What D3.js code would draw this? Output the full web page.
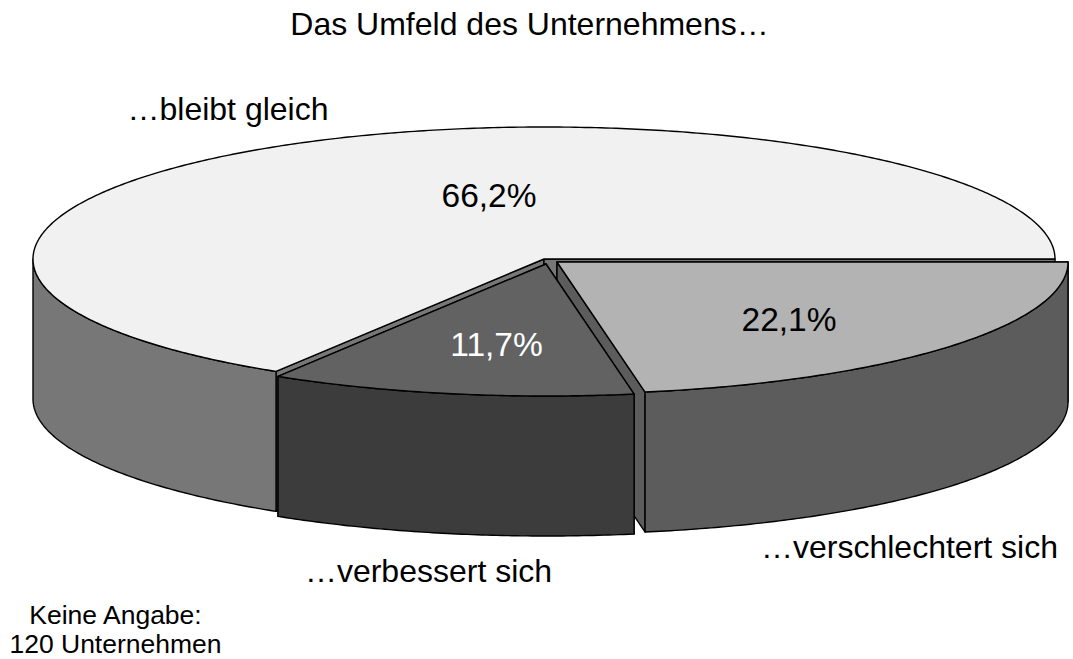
<!DOCTYPE html>
<html><head><meta charset="utf-8">
<script src="https://cdn.jsdelivr.net/npm/d3@7/dist/d3.min.js"></script>
<style>html,body{margin:0;padding:0;background:#fff}svg{display:block}text{font-family:"Liberation Sans",Arial,sans-serif}</style>
</head><body><svg id="c" width="1073" height="659"></svg>
<script>
const categories = ["…verschlechtert sich", "…verbessert sich", "…bleibt gleich"];
const values = [22.1, 11.7, 66.2];
const valueLabels = ["22,1%", "11,7%", "66,2%"];
const titleText = "Das Umfeld des Unternehmens…";
const noteLines = ["Keine Angabe:", "120 Unternehmen"];

const topColors = ["#b3b3b3", "#626262", "#f1f1f1"];
const wallColors = ["#5c5c5c", "#3c3c3c", "#777777"];
const centers = [[557, 262], [546, 264], [544, 259]];
const labelPos = [[789, 331, "#000"], [496.5, 356, "#fff"], [489, 207, "#000"]];
const catPos = [[909.5, 558], [428.5, 582], [228, 120]];
const rx = 511, ry = 132, depth = 140;
const drawOrder = [2, 0, 1];

const svg = d3.select("#c");
const pie = d3.pie().sort(null).startAngle(Math.PI / 2).endAngle(Math.PI * 2.5);
const arcs = pie(values);
const line = d3.line();

// small projection correction of the reference's perspective
function warp(a) {
  const t = a - Math.PI / 2;
  return a - 0.0105 * Math.sin(3 * t);
}
function pt(i, a, dz = 0) {
  const [cx, cy] = centers[i];
  const w = warp(a);
  return [cx + rx * Math.sin(w), cy - ry * Math.cos(w) + dz];
}
function samples(a0, a1) {
  const n = Math.max(2, Math.ceil(Math.abs(a1 - a0) / 0.01));
  return d3.range(n + 1).map(k => a0 + (a1 - a0) * k / n);
}
function poly(pts, fill) {
  svg.append("path").attr("d", line(pts) + "Z").attr("fill", fill)
    .attr("stroke", "#000").attr("stroke-width", 1.4).attr("stroke-linejoin", "round");
}
const FRONT_L = Math.PI * 1.5, FRONT_R = Math.PI / 2;

drawOrder.forEach(i => {
  const d = arcs[i];
  const c = centers[i];
  const wall = wallColors[i];
  const cBottom = [c[0], c[1] + depth];
  [d.startAngle, d.endAngle].forEach(a => {
    poly([c, pt(i, a), pt(i, a, depth), cBottom], wall);
  });
  const from = Math.max(d.startAngle, FRONT_R);
  const to = Math.min(d.endAngle, FRONT_L);
  if (to > from) {
    const s = samples(from, to);
    poly(s.map(a => pt(i, a)).concat(s.slice().reverse().map(a => pt(i, a, depth))), wall);
  }
  poly([c].concat(samples(d.startAngle, d.endAngle).map(a => pt(i, a))), topColors[i]);
});

function text(x, y, s, size, fill = "#000") {
  svg.append("text").attr("x", x).attr("y", y).attr("text-anchor", "middle")
    .attr("font-size", size).attr("fill", fill).text(s);
}
text(529.5, 35, titleText, 32);
categories.forEach((s, i) => text(catPos[i][0], catPos[i][1], s, 32));
valueLabels.forEach((s, i) => text(labelPos[i][0], labelPos[i][1], s, 33.5, labelPos[i][2]));
text(115.5, 624, noteLines[0], 26.5);
text(115.5, 653, noteLines[1], 26.5);
</script></body></html>
